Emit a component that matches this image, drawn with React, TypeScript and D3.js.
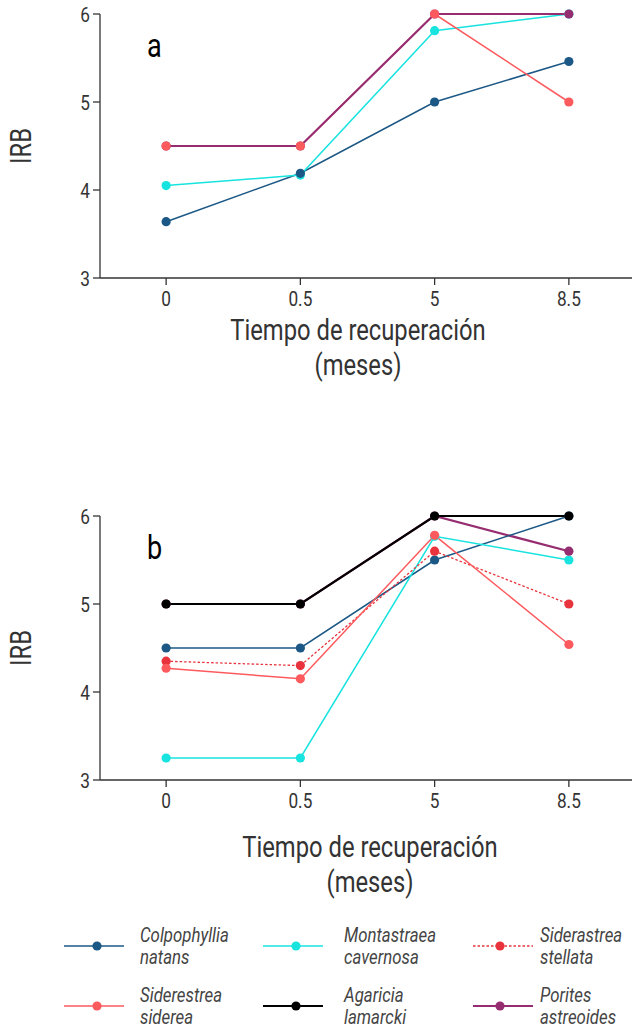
import React from "react";
import * as d3 from "d3";

const months = ["0", "0.5", "5", "8.5"];
const yTicks = [3, 4, 5, 6];

const species = [
  "Colpophyllia natans",
  "Montastraea cavernosa",
  "Siderastrea stellata",
  "Siderestrea siderea",
  "Agaricia lamarcki",
  "Porites astreoides",
];

// Panel a
const aColpophyllia = [3.64, 4.19, 5.0, 5.46];
const aMontastraea = [4.05, 4.17, 5.81, 6.0];
const aSiderea = [4.5, 4.5, 6.0, 5.0];
const aPorites = [4.5, 4.5, 6.0, 6.0];

// Panel b
const bColpophyllia = [4.5, 4.5, 5.5, 6.0];
const bMontastraea = [3.25, 3.25, 5.77, 5.5];
const bStellata = [4.35, 4.3, 5.6, 5.0];
const bSiderea = [4.27, 4.15, 5.78, 4.54];
const bAgaricia = [5.0, 5.0, 6.0, 6.0];
const bPorites = [5.0, 5.0, 6.0, 5.6];

const styles: Record<string, { color: string; width: number; dash?: string }> = {
  "Colpophyllia natans": { color: "#1b5886", width: 1.5 },
  "Montastraea cavernosa": { color: "#17e3df", width: 1.5 },
  "Siderastrea stellata": { color: "#e8333c", width: 1.3, dash: "2.5,2" },
  "Siderestrea siderea": { color: "#fd5a5e", width: 1.5 },
  "Agaricia lamarcki": { color: "#000000", width: 2.2 },
  "Porites astreoides": { color: "#962d70", width: 2.2 },
};

const FONT = "Roboto, 'Noto Sans', sans-serif";
const GRAY = "#333";
const SX = 0.82;

function CText({
  x,
  y,
  size,
  anchor = "start",
  fill = GRAY,
  italic = false,
  rotate = 0,
  children,
}: {
  x: number;
  y: number;
  size: number;
  anchor?: string;
  fill?: string;
  italic?: boolean;
  rotate?: number;
  children: React.ReactNode;
}) {
  return (
    <text
      transform={`translate(${x},${y}) rotate(${rotate}) scale(${SX},1)`}
      textAnchor={anchor}
      fontFamily={FONT}
      fontSize={size}
      fontStyle={italic ? "italic" : "normal"}
      fill={fill}
    >
      {children}
    </text>
  );
}

type Series = { name: string; values: number[] };

function Panel({
  top,
  label,
  lineOrder,
  markerOrder,
}: {
  top: number;
  label: string;
  lineOrder: Series[];
  markerOrder: Series[];
}) {
  const left = 100;
  const y = d3.scaleLinear().domain([3, 6]).range([top + 264, top]);
  const x = d3.scalePoint<string>().domain(months).range([99, 636]).padding(0.5);
  const line = d3
    .line<number>()
    .x((_, i) => x(months[i]) as number)
    .y((v) => y(v));
  const bottom = y(3);
  return (
    <g>
      <line x1={left} x2={left} y1={y(6)} y2={bottom} stroke={GRAY} strokeWidth={1.3} />
      {yTicks.map((t) => (
        <g key={t}>
          <line x1={left - 7} x2={left} y1={y(t)} y2={y(t)} stroke={GRAY} strokeWidth={1.3} />
          <CText x={left - 10} y={y(t) + 7.5} size={21} anchor="end">
            {t}
          </CText>
        </g>
      ))}
      <line x1={left} x2={632} y1={bottom} y2={bottom} stroke={GRAY} strokeWidth={1.3} />
      {months.map((m) => (
        <g key={m}>
          <line x1={x(m)} x2={x(m)} y1={bottom} y2={bottom + 7} stroke={GRAY} strokeWidth={1.3} />
          <CText x={x(m) as number} y={bottom + 28} size={21} anchor="middle">
            {m}
          </CText>
        </g>
      ))}
      <CText x={31} y={y(4.5)} size={29} anchor="middle" rotate={-90}>
        IRB
      </CText>
      <CText x={147} y={top + 43} size={33} fill="#000">
        {label}
      </CText>
      {lineOrder.map((s) => {
        const st = styles[s.name];
        return (
          <path
            key={s.name}
            d={line(s.values) as string}
            fill="none"
            stroke={st.color}
            strokeWidth={st.width}
            strokeDasharray={st.dash}
          />
        );
      })}
      {markerOrder.map((s) =>
        s.values.map((v, i) => (
          <circle key={s.name + i} cx={x(months[i])} cy={y(v)} r={4.6} fill={styles[s.name].color} />
        ))
      )}
    </g>
  );
}

function Legend() {
  const cols = [64, 263, 473];
  const rows = [946, 1006];
  const textX = [140, 344, 540];
  const markX = [97, 296, 500];
  return (
    <g>
      {species.map((name, i) => {
        const c = i % 3;
        const r = Math.floor(i / 3);
        const st = styles[name];
        const [w1, w2] = name.split(" ");
        const cy = rows[r];
        return (
          <g key={name}>
            <line
              x1={cols[c]}
              x2={cols[c] + 60}
              y1={cy}
              y2={cy}
              stroke={st.color}
              strokeWidth={st.width === 2.2 ? 1.8 : 1.4}
              strokeDasharray={st.dash}
            />
            <circle cx={markX[c]} cy={cy} r={4.6} fill={st.color} />
            <CText x={textX[c]} y={cy - 4} size={20.5} italic fill="#444">
              {w1}
            </CText>
            <CText x={textX[c]} y={cy + 17.5} size={20.5} italic fill="#444">
              {w2}
            </CText>
          </g>
        );
      })}
    </g>
  );
}

export default function App() {
  const aLines: Series[] = [
    { name: "Colpophyllia natans", values: aColpophyllia },
    { name: "Montastraea cavernosa", values: aMontastraea },
    { name: "Siderestrea siderea", values: aSiderea },
    { name: "Porites astreoides", values: aPorites },
  ];
  const aMarkers: Series[] = [aLines[1], aLines[3], aLines[0], aLines[2]];
  const bP: Series = { name: "Porites astreoides", values: bPorites };
  const bC: Series = { name: "Colpophyllia natans", values: bColpophyllia };
  const bM: Series = { name: "Montastraea cavernosa", values: bMontastraea };
  const bSt: Series = { name: "Siderastrea stellata", values: bStellata };
  const bSi: Series = { name: "Siderestrea siderea", values: bSiderea };
  const bA: Series = { name: "Agaricia lamarcki", values: bAgaricia };
  return (
    <svg width={632} height={1029} style={{ position: "absolute", left: 0, top: 0, background: "#fff" }}>
      <rect width={632} height={1029} fill="#fff" />
      <Panel top={14} label="a" lineOrder={aLines} markerOrder={aMarkers} />
      <CText x={358} y={340} size={29} anchor="middle">
        Tiempo de recuperación
      </CText>
      <CText x={358} y={375} size={29} anchor="middle">
        (meses)
      </CText>
      <Panel
        top={516}
        label="b"
        lineOrder={[bP, bC, bM, bSt, bSi, bA]}
        markerOrder={[bM, bP, bC, bSt, bSi, bA]}
      />
      <CText x={370} y={857} size={29} anchor="middle">
        Tiempo de recuperación
      </CText>
      <CText x={370} y={892} size={29} anchor="middle">
        (meses)
      </CText>
      <Legend />
    </svg>
  );
}
